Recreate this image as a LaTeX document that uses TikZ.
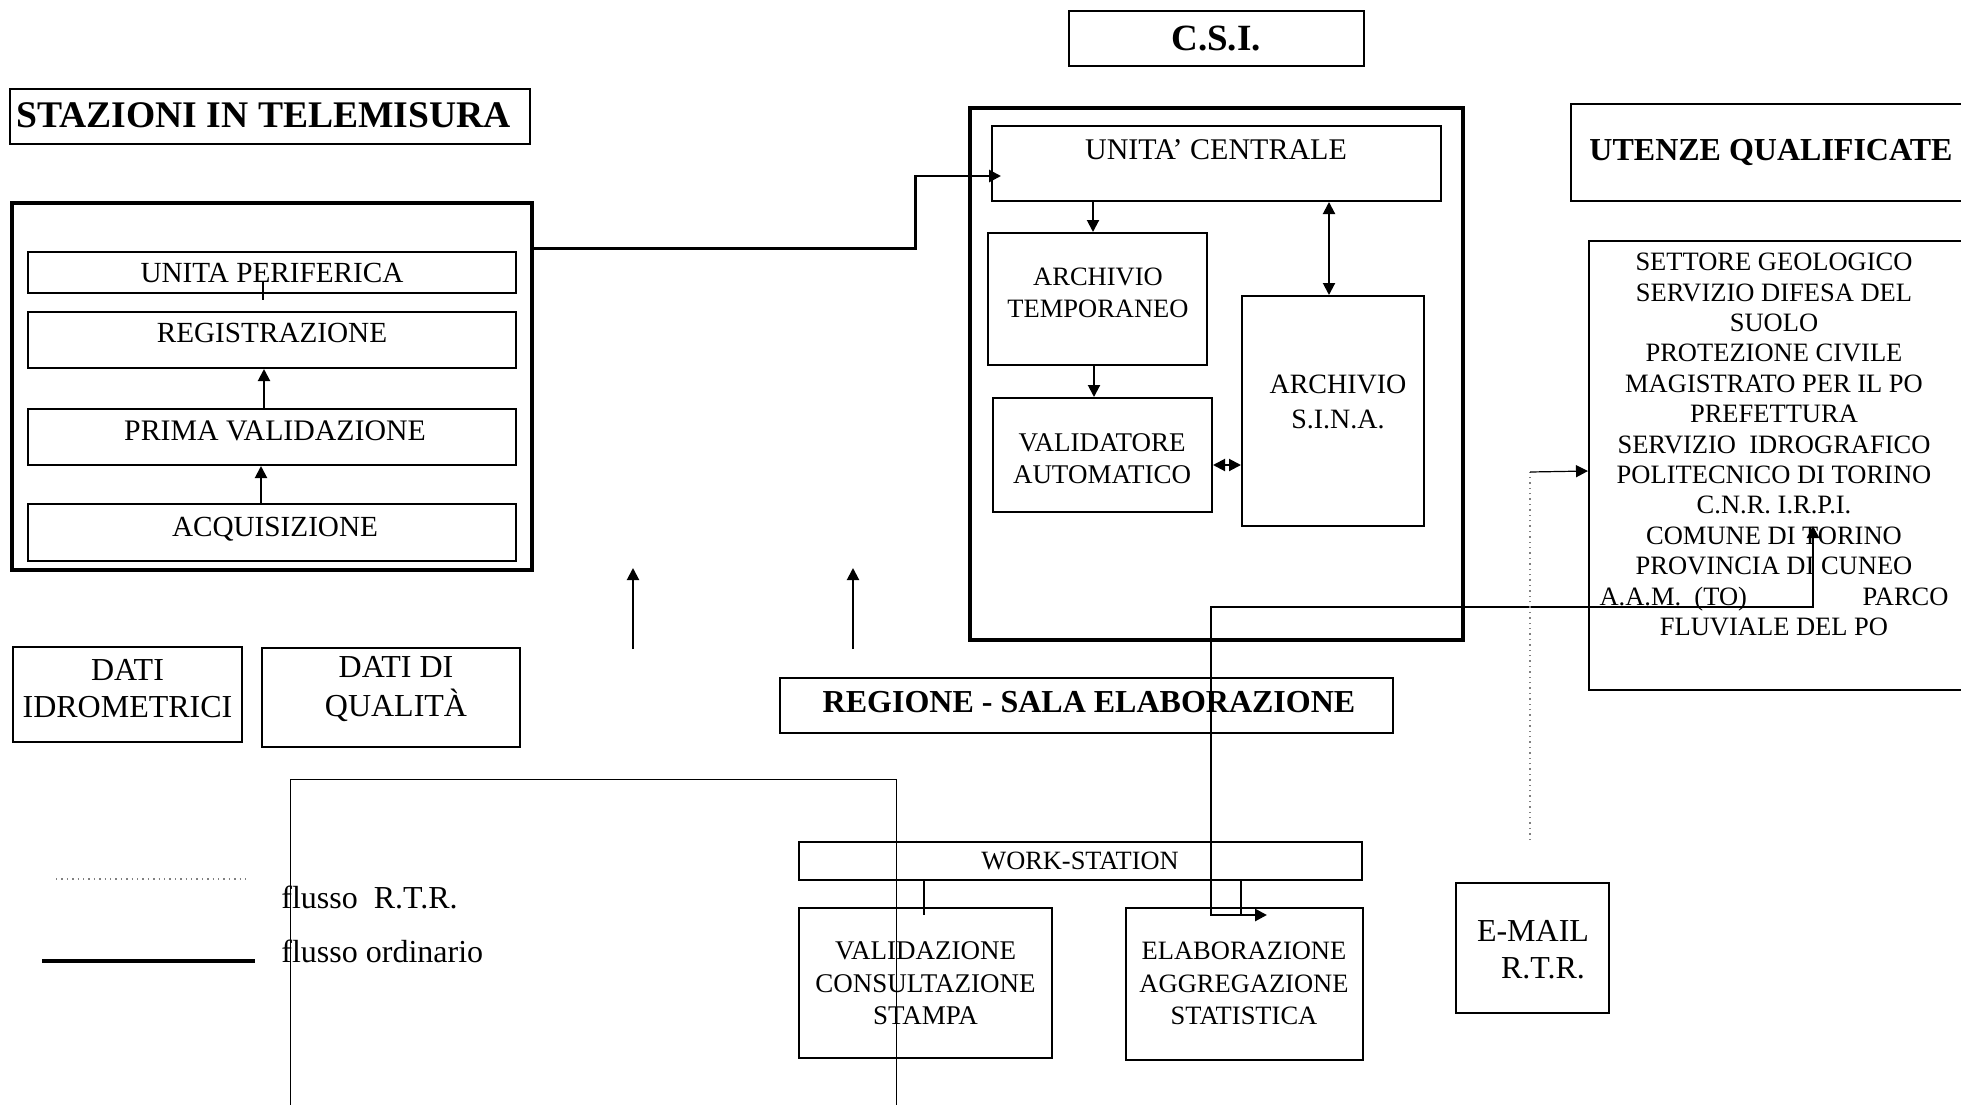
\documentclass[tikz,border=0pt]{standalone}
\usepackage{fontspec}
\setmainfont{Liberation Serif}
\usetikzlibrary{fit,arrows.meta,calc}
\begin{document}
\begin{tikzpicture}[x=0.5pt,y=-0.5pt,
  >={Triangle[length=6pt,width=6pt]},
  box/.style={draw, inner sep=0pt, line width=1pt},
  thickbox/.style={draw, inner sep=0pt, line width=2.25pt},
  txt/.style={inner sep=0pt, align=center},
  fbig/.style={font=\bfseries\fontsize{18.5pt}{22pt}\selectfont},
  fmid/.style={font=\bfseries\fontsize{16pt}{19pt}\selectfont},
  fst/.style={font=\fontsize{14.6pt}{17pt}\selectfont},
  fuc/.style={font=\fontsize{14pt}{17.5pt}\selectfont},
  fsm/.style={font=\fontsize{13.25pt}{16.25pt}\selectfont},
  flist/.style={font=\fontsize{13.25pt}{15.2pt}\selectfont},
  fws/.style={font=\fontsize{13.2pt}{15pt}\selectfont},
  flg/.style={font=\fontsize{16pt}{17pt}\selectfont},
  flow/.style={line width=1.4pt},
  link/.style={line width=1pt},
  rtr/.style={gray, line width=0.7pt, dotted},
]
\useasboundingbox (0,0) rectangle (1961,1104);

% ---- titles
\node[box, fit={(1069,11)(1364,66)}] (csi) {};
\node[txt,fbig] (csit) at (1216,38.5) {C.S.I.};
\node[box, fit={(10,89)(530,144)}] (stzt) {};
\node[txt,fbig,font=\bfseries\fontsize{18.8pt}{22pt}\selectfont,anchor=west] (stztt) at (16,115) {STAZIONI IN TELEMISURA};
\node[box, fit={(1571,104)(1964,201)}] (utq) {};
\node[txt,fmid] (utqt) at (1771,152) {UTENZE QUALIFICATE};

% ---- stazioni in telemisura
\node[thickbox, fit={(12,203)(532,570)}] (stz) {};
\node[box, fit={(28,252)(516,293)}] (up) {};
\node[txt,fst] (upt) at (272,273) {UNITA PERIFERICA};
\node[box, fit={(28,312)(516,368)}] (reg) {};
\node[txt,fst] (regt) at (272,333) {REGISTRAZIONE};
\node[box, fit={(28,409)(516,465)}] (pv) {};
\node[txt,fst,font=\fontsize{14.9pt}{17pt}\selectfont] (pvt) at (275,431) {PRIMA VALIDAZIONE};
\node[box, fit={(28,504)(516,561)}] (acq) {};
\node[txt,fst] (acqt) at (275,529) {ACQUISIZIONE};

\draw[link] ($(up.south west)+(236,-13)$) -- ($(up.south west)+(236,6)$);
\draw[link,->] ($(pv.north west)+(237,0)$) -- ($(reg.south west)+(237,0)$);
\draw[link,->] ($(acq.north west)+(234,0)$) -- ($(pv.south west)+(234,0)$);

% ---- C.S.I.
\node[thickbox, fit={(970,108)(1463,640)}] (csib) {};
\node[box, fit={(992,126)(1441,201)}] (uc) {};
\node[txt,font=\fontsize{15pt}{17.5pt}\selectfont] (uct) at (1216,149.5) {UNITA’ CENTRALE};
\node[box, fit={(988,233)(1207,365)}] (atmp) {};
\node[txt,fsm] (atmpt) at (1098,293) {ARCHIVIO\\TEMPORANEO};
\node[box, fit={(993,398)(1212,512)}] (va) {};
\node[txt,fsm,font=\fontsize{13.5pt}{16pt}\selectfont] (vat) at (1102,459) {VALIDATORE\\AUTOMATICO};
\node[box, fit={(1242,296)(1424,526)}] (sina) {};
\node[txt,fuc] (sinat) at (1338,401.5) {ARCHIVIO\\S.I.N.A.};

\draw[link,->] ($(uc.south west)+(102,0)$) -- ($(atmp.north west)+(106,0)$);
\draw[link,->] ($(atmp.south west)+(107,0)$) -- ($(va.north west)+(102,0)$);
\draw[link,<->] ($(uc.south west)+(338,0)$) -- ($(sina.north west)+(88,0)$);
\draw[link,<->] ($(va.north east)+(0,68)$) -- ($(sina.north west)+(0,170)$);

% stazioni -> unita centrale
\draw[flow,->] ($(stz.north east)+(0,48)$) -- ++(381,0) |- ($(uc.north west)+(10,51)$);

% ---- utenze qualificate list
\node[box, fit={(1589,241)(1964,690)}] (ul) {};
\node[txt,flist] (ult) at (1774,444.5) {SETTORE GEOLOGICO\\
SERVIZIO DIFESA DEL\\
SUOLO\\
PROTEZIONE CIVILE\\
MAGISTRATO PER IL PO\\
PREFETTURA\\
SERVIZIO\ \ IDROGRAFICO\\
POLITECNICO DI TORINO\\
C.N.R. I.R.P.I.\\
COMUNE DI TORINO\\
PROVINCIA DI CUNEO\\
\makebox[174.5pt]{A.A.M.\ \ (TO)\hfill PARCO}\\
FLUVIALE DEL PO};

% ---- dati
\node[box, fit={(13,647)(242,742)}] (dim) {};
\node[txt,font=\fontsize{16pt}{18.5pt}\selectfont] (dimt) at (127.5,688.5) {DATI\\IDROMETRICI};
\node[box, fit={(262,648)(520,747)}] (dqu) {};
\node[txt,font=\fontsize{16pt}{19.5pt}\selectfont] (dqut) at (396,689.5) {DATI DI\\QUALITÀ};

% up arrows
\coordinate (ua1s) at (633,649); \coordinate (ua1e) at (633,568);
\coordinate (ua2s) at (853,649); \coordinate (ua2e) at (853,568);
\draw[link,->] (ua1s) -- (ua1e);
\draw[link,->] (ua2s) -- (ua2e);

% ---- regione
\node[box, fit={(780,678)(1393,733)}] (regb) {};
\node[txt,fmid] (regbt) at (1089,702) {REGIONE - SALA ELABORAZIONE};
\node[box, fit={(799,842)(1362,880)}] (ws) {};
\node[txt,fws] (wst) at (1080,861) {WORK-STATION};
\node[box, fit={(799,908)(1052,1058)}] (val) {};
\node[txt,font=\fontsize{13.5pt}{16.25pt}\selectfont] (valt) at (925.5,983.5) {VALIDAZIONE\\CONSULTAZIONE\\STAMPA};
\node[box, fit={(1126,908)(1363,1060)}] (el) {};
\node[txt,fsm] (elt) at (1244,983.5) {ELABORAZIONE\\AGGREGAZIONE\\STATISTICA};

\draw[flow] ($(ws.south west)+(126,0)$) -- ($(val.north west)+(126,8)$);
\draw[flow] ($(ws.south west)+(443,0)$) -- ($(el.north west)+(116,8)$);

% thick connector csi -> utenze / elaborazione
\coordinate (jn) at (1211,607);
\draw[flow,<->] ($(ul.north west)+(225,286)$) |- (jn) |- ($(el.north west)+(142,8)$);

% ---- e-mail
\node[box, fit={(1456,883)(1609,1013)}] (em) {};
\node[txt,font=\fontsize{16pt}{18.5pt}\selectfont] (emt) at (1533,949.5) {E-MAIL\\\hspace*{10pt}R.T.R.};

% R.T.R. flow
\coordinate (rtrs) at (1530,840);
\coordinate (rtrc) at (1530,472);
\draw[rtr] (rtrs) -- (rtrc);
\draw[line width=0.6pt,->] (rtrc) -- ($(ul.north west)+(0,231)$);

% ---- open thin frame
\draw[line width=0.5pt] (290,1110) -- (290,779) -- (896,779) -- (896,1110);

% ---- legend
\coordinate (lg1a) at (56,879); \coordinate (lg1b) at (248,879);
\coordinate (lg2a) at (42,961); \coordinate (lg2b) at (255,961);
\draw[rtr] (lg1a) -- (lg1b);
\draw[line width=1.65pt] (lg2a) -- (lg2b);
\node[txt,flg,anchor=base west] (lgt1) at (281,908) {flusso\ \ R.T.R.};
\node[txt,flg,anchor=base west] (lgt2) at (281,962) {flusso ordinario};
\end{tikzpicture}
\end{document}
